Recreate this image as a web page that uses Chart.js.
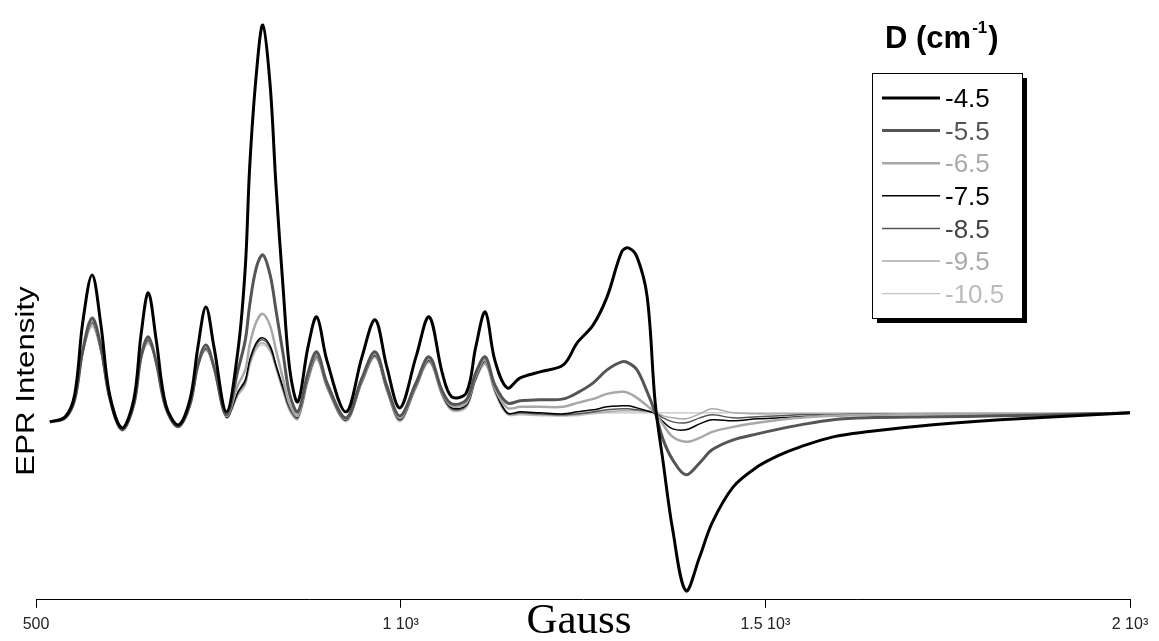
<!DOCTYPE html>
<html>
<head>
<meta charset="utf-8">
<title>EPR</title>
<script src="https://cdn.jsdelivr.net/npm/chart.js@4"></script>
<style>
  body { margin: 0; background: #fff; }
  #contenedor { width: 1159px; height: 641px; position: relative; }
</style>
</head>
<body>
<div id="contenedor"><canvas id="grafico"></canvas></div>
<script>
// Campo magnetico (Gauss)
const gauss = [519, 540, 553, 564, 577, 589, 601, 618, 634, 644,
  654, 665, 678, 695, 711, 722, 733, 744, 761, 777,
  787, 793, 802, 811, 821, 829, 839, 848, 859, 873,
  885, 899, 925, 947, 965, 981, 999, 1021, 1039, 1057,
  1070, 1090, 1103, 1116, 1129, 1146, 1164, 1191, 1223, 1242,
  1264, 1283, 1303, 1312, 1324, 1338, 1349, 1360, 1373, 1391,
  1410, 1427, 1456, 1489, 1520, 1548, 1593, 1639, 1730, 1822,
  1949, 2000];

// Intensidad EPR para cada valor de D
const d45 = [-9, -4, 18, 90, 138, 88, 18, -15, 13, 78,
  120, 72, 8, -12, 13, 66, 106, 66, 1, 63,
  146, 246, 338, 388, 328, 228, 123, 43, 11, 66,
  96, 52, 1, 56, 93, 46, 5, 56, 96, 40,
  16, 20, 66, 101, 53, 25, 35, 41, 48, 70,
  88, 116, 161, 165, 156, 116, 10, -50, -117, -178,
  -144, -110, -74, -54, -42, -34, -24, -19, -12, -7,
  -2, 0];
const d55 = [-9, -5, 13, 62, 95, 66, 15, -17, 8, 56,
  76, 50, 5, -14, 8, 48, 68, 46, -2, 43,
  73, 108, 145, 158, 138, 103, 58, 18, 1, 40,
  61, 30, -5, 35, 61, 27, -3, 30, 56, 22,
  9, 13, 40, 56, 28, 10, 12, 13, 14, 20,
  30, 43, 51, 50, 43, 21, 0, -27, -47, -62,
  -50, -37, -27, -21, -16, -12, -7, -5, -4, -3,
  -1, 0];
const d65 = [-9, -5, 13, 61, 92, 64, 15, -17, 8, 55,
  74, 50, 5, -14, 8, 47, 66, 45, -3, 28,
  43, 68, 91, 99, 87, 63, 33, 8, -3, 37,
  58, 28, -6, 33, 59, 25, -5, 28, 54, 20,
  7, 10, 37, 53, 25, 5, 6, 6, 6, 10,
  14, 19, 21, 20, 15, 7, 0, -12, -24, -29,
  -25, -19, -14, -10, -7, -5, -3, -2, -1, -1,
  -1, 0];
const d75 = [-9, -5, 13, 60, 91, 63, 15, -17, 8, 55,
  73, 50, 5, -14, 8, 47, 65, 45, -4, 21,
  33, 53, 70, 75, 67, 48, 25, 6, -4, 35,
  57, 27, -7, 32, 58, 24, -6, 27, 53, 19,
  5, 8, 35, 52, 24, 0, 1, 0, -1, 1,
  3, 6, 7, 7, 5, 2, -1, -9, -16, -17,
  -11, -7, -8, -6, -5, -4, -3, -2, -1, -1,
  -1, 0];
const d85 = [-9, -5, 13, 60, 90, 62, 15, -17, 8, 54,
  72, 50, 5, -14, 8, 46, 64, 45, -4, 20,
  31, 51, 68, 73, 65, 47, 23, 4, -5, 34,
  56, 26, -7, 31, 57, 23, -7, 26, 52, 18,
  4, 7, 34, 51, 23, 0, 0, -1, -2, -1,
  1, 3, 4, 4, 3, 2, 0, -5, -9, -10,
  -5, -2, -5, -4, -3, -2, -2, -1, -1, -1,
  -1, 0];
const d95 = [-9, -5, 13, 59, 88, 61, 15, -17, 8, 54,
  70, 50, 5, -14, 8, 46, 63, 45, -5, 18,
  29, 48, 65, 70, 63, 45, 21, 2, -6, 32,
  54, 25, -8, 30, 56, 22, -8, 25, 51, 17,
  3, 6, 33, 49, 21, -1, -1, -2, -3, -2,
  0, 1, 2, 2, 2, 1, 0, -3, -5, -6,
  -1, 4, 0, -1, -1, -1, -1, -1, -1, -1,
  0, 0];
const d105 = [-9, -5, 13, 58, 86, 60, 15, -17, 8, 53,
  69, 50, 5, -14, 8, 45, 62, 44, -5, 17,
  27, 46, 63, 68, 61, 43, 20, 1, -7, 30,
  53, 24, -9, 29, 55, 21, -9, 24, 50, 16,
  2, 5, 32, 48, 20, -2, -2, -3, -3, -3,
  -1, 0, 0, 0, 0, 0, 0, 0, 0, 0,
  0, 0, 0, 0, 0, 0, 0, 0, 0, 0,
  0, 0];

const etiquetasD = ['-4.5', '-5.5', '-6.5', '-7.5', '-8.5', '-9.5', '-10.5'];
const ticksX = [500, 1000, 1500, 2000];
const etiquetasX = ['500', '1 10³', '1.5 10³', '2 10³'];

// Estilos de cada curva
const colores = ['#000000', '#555555', '#a8a8a8', '#000000', '#555555', '#aaaaaa', '#c4c4c4'];
const coloresTexto = ['#000000', '#555555', '#aaaaaa', '#000000', '#444444', '#aaaaaa', '#bbbbbb'];
const grosores = [3, 3, 2.5, 1.5, 1.5, 1.5, 1.2];

const series = [d45, d55, d65, d75, d85, d95, d105];

const datasets = series.map((valores, i) => ({
  label: etiquetasD[i],
  data: valores.map((v, j) => ({ x: gauss[j], y: v })),
  borderColor: colores[i],
  borderWidth: grosores[i],
  pointRadius: 0,
  fill: false,
  tension: 0.35
}));

// Textos y leyenda dibujados a mano
const textos = {
  id: 'textos',
  afterDraw(chart) {
    const ctx = chart.ctx;
    const area = chart.chartArea;
    ctx.save();
    ctx.fillStyle = '#000';

    // Titulo eje x
    ctx.font = '43px "Liberation Serif", "Times New Roman", serif';
    ctx.textAlign = 'center';
    ctx.textBaseline = 'alphabetic';
    ctx.fillText('Gauss', (area.left + area.right) / 2 - 4, 633);

    // Titulo eje y
    ctx.save();
    ctx.translate(27, 381);
    ctx.rotate(-Math.PI / 2);
    ctx.scale(1.25, 1);
    ctx.font = '25px "Liberation Sans", Arial, sans-serif';
    ctx.textBaseline = 'middle';
    ctx.fillText('EPR Intensity', 0, 0);
    ctx.restore();

    // Titulo de la leyenda
    ctx.textAlign = 'left';
    ctx.font = 'bold 31px "Liberation Sans", Arial, sans-serif';
    let x = 885;
    ctx.fillText('D (cm', x, 48);
    x += ctx.measureText('D (cm').width + 1;
    ctx.font = 'bold 17px "Liberation Sans", Arial, sans-serif';
    ctx.fillText('-1', x, 33);
    x += ctx.measureText('-1').width + 1;
    ctx.font = 'bold 31px "Liberation Sans", Arial, sans-serif';
    ctx.fillText(')', x, 48);

    // Caja con sombra
    const caja = { x: 872, y: 73, w: 150, h: 245 };
    ctx.fillStyle = '#000';
    ctx.fillRect(caja.x + 5, caja.y + 5, caja.w, caja.h);
    ctx.fillStyle = '#fff';
    ctx.fillRect(caja.x, caja.y, caja.w, caja.h);
    ctx.strokeStyle = '#000';
    ctx.lineWidth = 1;
    ctx.strokeRect(caja.x + 0.5, caja.y + 0.5, caja.w, caja.h);

    // Entradas
    ctx.font = '26px "Liberation Sans", Arial, sans-serif';
    ctx.textBaseline = 'middle';
    chart.data.datasets.forEach((ds, i) => {
      const y = 98 + i * 32.6;
      ctx.strokeStyle = ds.borderColor;
      ctx.lineWidth = ds.borderWidth;
      ctx.beginPath();
      ctx.moveTo(882, y);
      ctx.lineTo(940, y);
      ctx.stroke();
      ctx.fillStyle = coloresTexto[i];
      ctx.fillText(ds.label, 945, y + 2);
    });
    ctx.restore();
  }
};

const ctx = document.getElementById('grafico').getContext('2d');
const grafico = new Chart(ctx, {
  type: 'line',
  data: { datasets },
  options: {
    responsive: true,
    maintainAspectRatio: false,
    animation: false,
    layout: { padding: { left: 36, right: 29, top: 10, bottom: 0 } },
    plugins: {
      legend: { display: false },
      tooltip: { enabled: false }
    },
    scales: {
      x: {
        type: 'linear',
        min: 500,
        max: 2000,
        afterBuildTicks: (escala) => {
          escala.ticks = ticksX.map(v => ({ value: v }));
        },
        ticks: {
          autoSkip: false,
          maxRotation: 0,
          padding: 7,
          color: '#222',
          font: { family: '"Liberation Sans Narrow", "Liberation Sans", Arial, sans-serif', size: 16 },
          callback: (valor) => etiquetasX[ticksX.indexOf(valor)]
        },
        grid: { drawOnChartArea: false, drawTicks: true, tickLength: 8, color: '#000' },
        border: { display: true, color: '#000', width: 1 }
      },
      y: {
        display: false,
        min: -187,
        max: 403
      }
    }
  },
  plugins: [textos]
});
</script>
</body>
</html>
